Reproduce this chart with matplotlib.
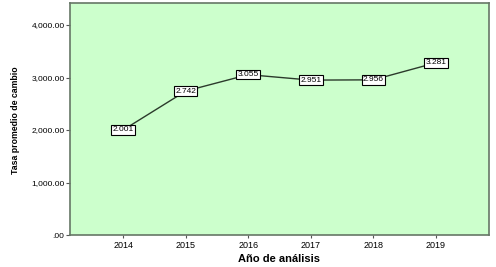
import matplotlib.pyplot as plt

years = [2014, 2015, 2016, 2017, 2018, 2019]
tasa = [2001, 2742, 3055, 2951, 2956, 3281]
labels = ["2.001", "2.742", "3.055", "2.951", "2.956", "3.281"]
yticks = [0, 1000, 2000, 3000, 4000]
ytick_labels = [".00", "1,000.00", "2,000.00", "3,000.00", "4,000.00"]

plt.rcParams['font.family'] = ['Liberation Sans', 'DejaVu Sans']

fig = plt.figure(figsize=(4.96, 2.67), dpi=100)
ax = fig.add_axes([70 / 496, 32 / 267, 419 / 496, 232 / 267])
ax.set_facecolor('#ccffcc')

ax.plot(years, tasa, color='#2b3a2b', lw=1.0, zorder=2)
for x, y, t in zip(years, tasa, labels):
    ax.text(x, y, t, ha='center', va='center', fontsize=6, zorder=3,
            bbox=dict(boxstyle='square,pad=0.15', fc='white', ec='black', lw=0.8))

ax.set_xlim(2013.15, 2019.85)
ax.set_ylim(0, 4420)
ax.set_xticks(years)
ax.set_yticks(yticks)
ax.set_yticklabels(ytick_labels)
ax.tick_params(axis='y', labelsize=6, length=3, width=0.8, color='#555555', pad=1)
ax.tick_params(axis='x', labelsize=6.5, length=2.5, width=0.8, color='#555555', pad=2)
for s in ax.spines.values():
    s.set_color('#667766')
    s.set_linewidth(1.2)

ax.set_xlabel("Año de análisis", fontsize=8, fontweight='bold', labelpad=3)
ax.set_ylabel("Tasa promedio de cambio", fontsize=6.3, fontweight='bold')
ax.yaxis.set_label_coords(-50 / 419, (235 - 120) / 232)

fig.savefig('out.png', dpi=100)
